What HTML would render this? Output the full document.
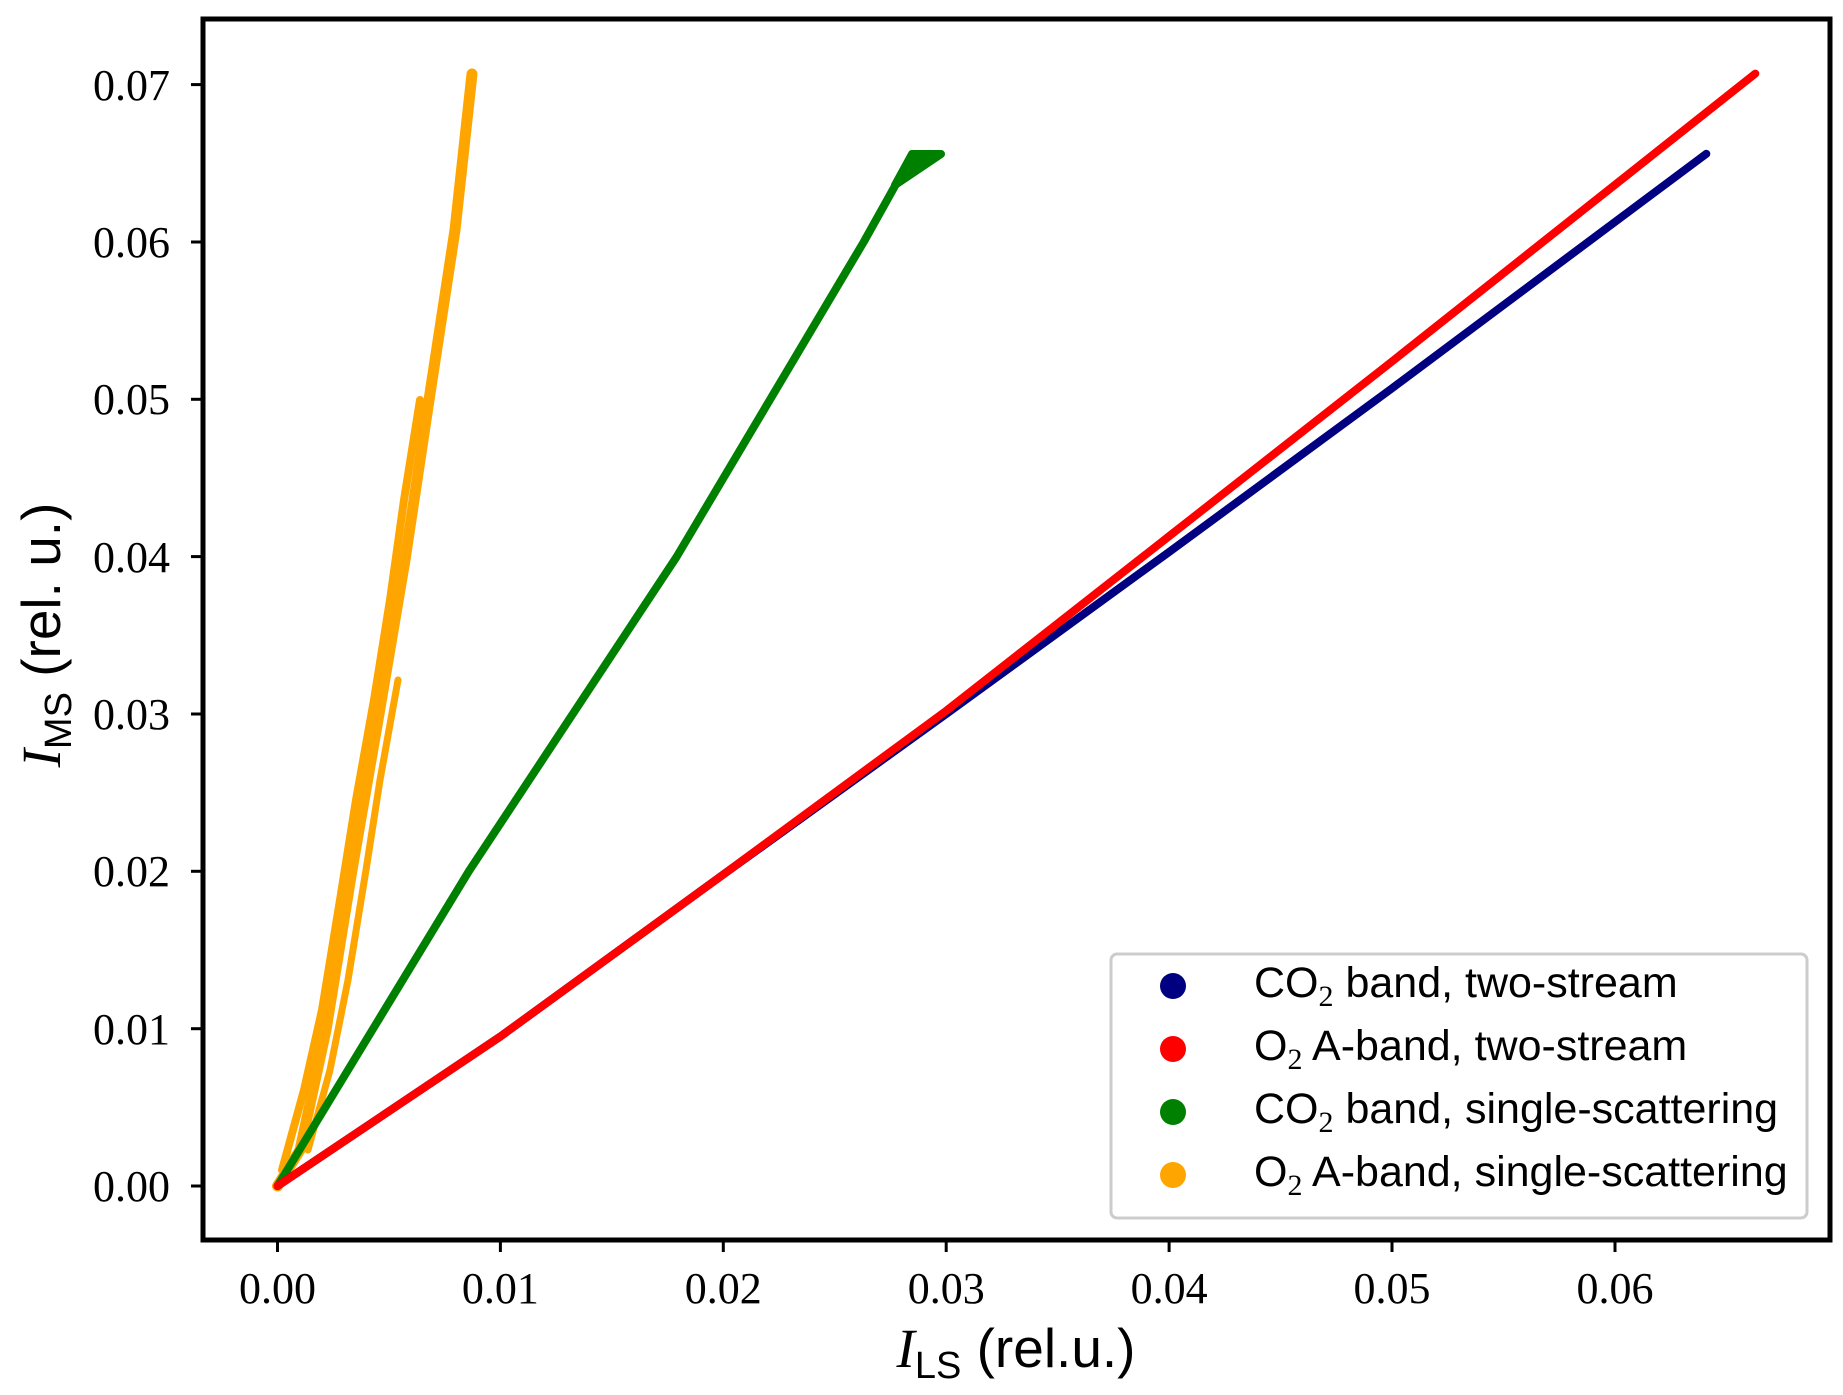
<!DOCTYPE html>
<html><head><meta charset="utf-8"><style>
body{margin:0;background:#fff;}
svg{display:block;}
.t{font-family:"Liberation Serif",serif;font-size:44px;fill:#000;}
.l{font-family:"Liberation Sans",sans-serif;font-size:43px;fill:#000;}
</style></head><body>
<svg width="1843" height="1395" viewBox="0 0 1843 1395" xmlns="http://www.w3.org/2000/svg">
<rect width="1843" height="1395" fill="#fff"/>
<g fill="none" stroke-linecap="round" stroke-linejoin="round">
<path d="M277.5,1186 L300,1150 L326,1030 L352,870 L379,714 L405,560 L429,400 L455,230 L472,74" stroke="#ffa500" stroke-width="11"/>
<path d="M290,1170 L312,1090 L330,1010 L348,900 L364,800 L382,700 L398,600 L412,500 L428,400" stroke="#ffa500" stroke-width="8" transform="translate(-8,0)"/>
<path d="M300,1150 L322,1070 L340,980 L358,870 L372,780 L390,680" stroke="#ffa500" stroke-width="7" transform="translate(8,0)"/>
<path d="M277.5,1186 L469,871 L676.5,557 L863.7,242 L912.8,154" stroke="#008000" stroke-width="8"/>
<path d="M895,185 L912,154 L941,154 Z" stroke="#008000" stroke-width="8" fill="#008000"/>
<path d="M277.5,1186 L500.4,1036.5 L723.3,874.5 L946.2,714 L1169.1,552 L1392,388.3 L1706.3,153.8" stroke="#000080" stroke-width="8"/>
<path d="M277.5,1186 L500.4,1036.5 L723.3,874.5 L946.2,710.8 L1169.1,536.2 L1392,361.5 L1755.3,73.6" stroke="#ff0000" stroke-width="8"/>
</g>
<rect x="203" y="19" width="1627" height="1221" fill="none" stroke="#000" stroke-width="5"/>
<g stroke="#000" stroke-width="3">
<line x1="277.5" y1="1240" x2="277.5" y2="1252"/><line x1="500.4" y1="1240" x2="500.4" y2="1252"/>
<line x1="723.3" y1="1240" x2="723.3" y2="1252"/><line x1="946.2" y1="1240" x2="946.2" y2="1252"/>
<line x1="1169.1" y1="1240" x2="1169.1" y2="1252"/><line x1="1392" y1="1240" x2="1392" y2="1252"/>
<line x1="1615" y1="1240" x2="1615" y2="1252"/>
<line x1="191" y1="1186" x2="203" y2="1186"/><line x1="191" y1="1028.7" x2="203" y2="1028.7"/>
<line x1="191" y1="871.3" x2="203" y2="871.3"/><line x1="191" y1="714" x2="203" y2="714"/>
<line x1="191" y1="556.6" x2="203" y2="556.6"/><line x1="191" y1="399.3" x2="203" y2="399.3"/>
<line x1="191" y1="242" x2="203" y2="242"/><line x1="191" y1="84.6" x2="203" y2="84.6"/>
</g>
<g class="t" text-anchor="middle">
<text x="277.5" y="1303">0.00</text><text x="500.4" y="1303">0.01</text><text x="723.3" y="1303">0.02</text>
<text x="946.2" y="1303">0.03</text><text x="1169.1" y="1303">0.04</text><text x="1392" y="1303">0.05</text>
<text x="1615" y="1303">0.06</text>
</g>
<g class="t" text-anchor="end">
<text x="170" y="1201">0.00</text><text x="170" y="1044">0.01</text><text x="170" y="886">0.02</text>
<text x="170" y="729">0.03</text><text x="170" y="572">0.04</text><text x="170" y="414">0.05</text>
<text x="170" y="257">0.06</text><text x="170" y="100">0.07</text>
</g>
<text x="1016" y="1367" text-anchor="middle" style="font-family:'Liberation Sans',sans-serif;font-size:55px"><tspan style="font-family:'Liberation Serif',serif;font-style:italic">I</tspan><tspan font-size="38" dy="11">LS</tspan><tspan dy="-11"> (rel.u.)</tspan></text>
<text transform="translate(60,635) rotate(-90)" text-anchor="middle" style="font-family:'Liberation Sans',sans-serif;font-size:55px"><tspan style="font-family:'Liberation Serif',serif;font-style:italic">I</tspan><tspan font-size="38" dy="11">MS</tspan><tspan dy="-11"> (rel. u.)</tspan></text>
<rect x="1111" y="954" width="696" height="264" rx="6" fill="#fff" stroke="#ccc" stroke-width="3"/>
<circle cx="1173" cy="986" r="13" fill="#000080"/>
<circle cx="1173" cy="1049" r="13" fill="#ff0000"/>
<circle cx="1173" cy="1112" r="13" fill="#008000"/>
<circle cx="1173" cy="1175" r="13" fill="#ffa500"/>
<g class="l">
<text x="1254" y="997">CO<tspan font-size="30" dy="9" style="font-family:'Liberation Serif',serif">2</tspan><tspan dy="-9"> band, two-stream</tspan></text>
<text x="1254" y="1060">O<tspan font-size="30" dy="9" style="font-family:'Liberation Serif',serif">2</tspan><tspan dy="-9"> A-band, two-stream</tspan></text>
<text x="1254" y="1123">CO<tspan font-size="30" dy="9" style="font-family:'Liberation Serif',serif">2</tspan><tspan dy="-9"> band, single-scattering</tspan></text>
<text x="1254" y="1186">O<tspan font-size="30" dy="9" style="font-family:'Liberation Serif',serif">2</tspan><tspan dy="-9"> A-band, single-scattering</tspan></text>
</g>
</svg>
</body></html>
